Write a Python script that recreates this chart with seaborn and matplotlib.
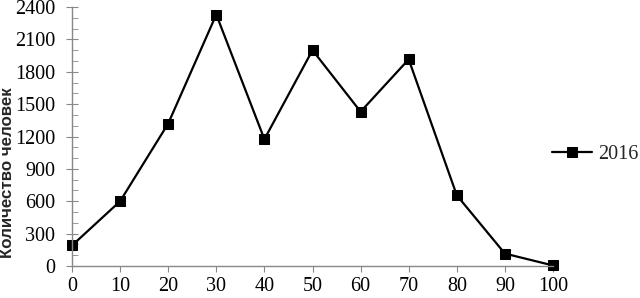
import matplotlib
matplotlib.use("Agg")
import matplotlib.pyplot as plt
import seaborn as sns
import pandas as pd
from matplotlib.ticker import MultipleLocator

ages = [0, 10, 20, 30, 40, 50, 60, 70, 80, 90, 100]
counts = [190, 600, 1320, 2330, 1175, 2000, 1430, 1915, 655, 115, 5]
series_name = "2016"
y_label = "Количество человек"

df = pd.DataFrame({"x": ages, "y": counts, "series": series_name})

sns.set_style("ticks")
plt.rcParams["font.family"] = ["Liberation Serif", "DejaVu Serif"]

fig = plt.figure(figsize=(6.4, 2.98), dpi=100)
ax = fig.add_axes([72 / 640, 32 / 298, 481 / 640, 259 / 298])

sns.lineplot(data=df, x="x", y="y", hue="series", palette=["black"],
             marker="s", markersize=7.5, markeredgecolor="black",
             linewidth=1.6, ax=ax, clip_on=False)

ax.set_xlim(0, 100)
ax.set_ylim(0, 2400)
ax.set_xticks(range(0, 101, 10))
ax.yaxis.set_major_locator(MultipleLocator(300))
ax.yaxis.set_minor_locator(MultipleLocator(100))
ax.tick_params(axis="both", labelsize=14.5, colors="black")
ax.tick_params(axis="x", direction="out", length=4, color="#888888", pad=4)
ax.tick_params(axis="y", which="major", direction="inout", length=8, color="#888888", pad=8)
ax.tick_params(axis="y", which="minor", direction="in", length=4, color="#888888")
for s in ["top", "right"]:
    ax.spines[s].set_visible(False)
for s in ["left", "bottom"]:
    ax.spines[s].set_color("#888888")
    ax.spines[s].set_linewidth(1.0)

ax.set_xlabel("")
ax.set_ylabel(y_label, family=["Liberation Sans", "DejaVu Sans"], fontweight="bold",
              fontsize=12.2)
ax.yaxis.set_label_coords(-0.118, 0.36)

leg = ax.legend(loc="center left", bbox_to_anchor=(0.998, 0.432), frameon=False,
                fontsize=14.5, handlelength=2.0, handletextpad=0.3,
                borderaxespad=0, borderpad=0)

fig.savefig("out.png", dpi=100)
